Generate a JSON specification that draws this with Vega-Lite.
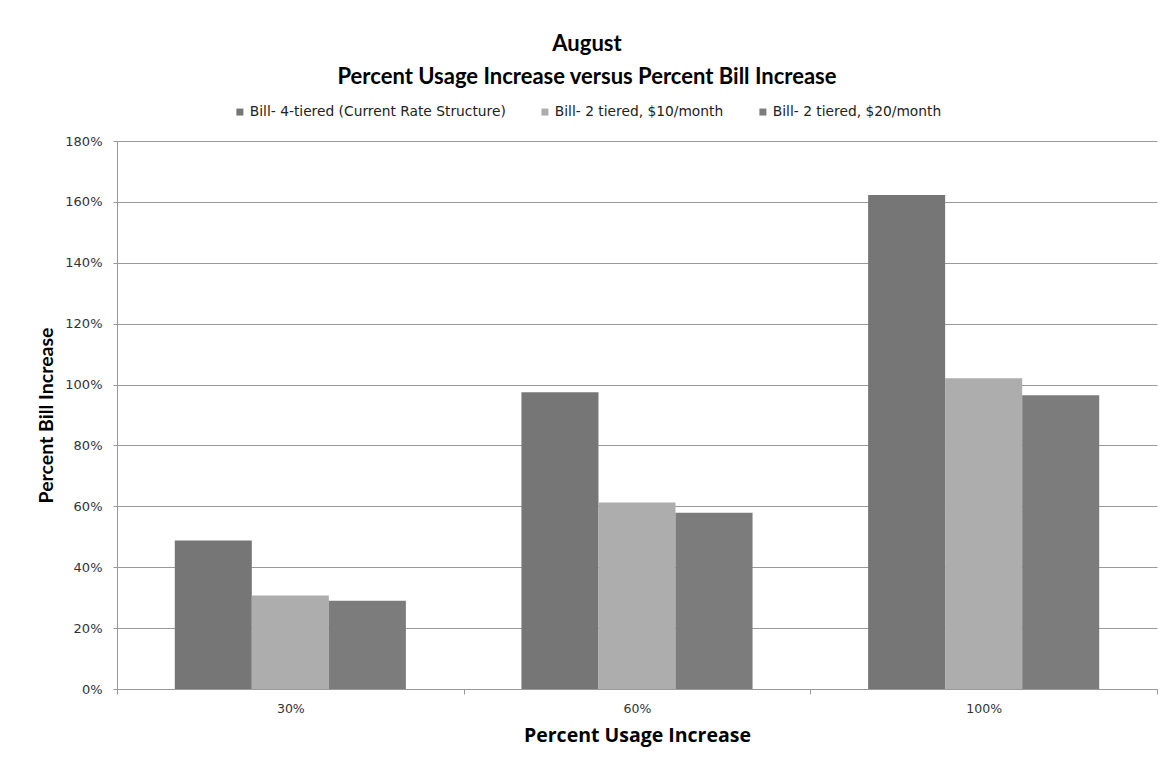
{
  "$schema": "https://vega.github.io/schema/vega-lite/v6.json",
  "autosize": {"type": "none"},
  "width": 1040,
  "height": 548,
  "padding": {"left": 117, "top": 141, "right": 16, "bottom": 77},
  "background": "white",
  "title": {
    "text": ["August", "Percent Usage Increase versus Percent Bill Increase"],
    "font": "Lato",
    "fontSize": 22,
    "fontWeight": "bold",
    "color": "#000000",
    "lineHeight": 33,
    "anchor": "middle",
    "dx": -50,
    "offset": 16
  },
  "data": {
    "values": [
      {"usage": "30%", "plan": "Bill- 4-tiered (Current Rate Structure)", "increase": 0.488},
      {"usage": "30%", "plan": "Bill- 2 tiered, $10/month", "increase": 0.307},
      {"usage": "30%", "plan": "Bill- 2 tiered, $20/month", "increase": 0.290},
      {"usage": "60%", "plan": "Bill- 4-tiered (Current Rate Structure)", "increase": 0.975},
      {"usage": "60%", "plan": "Bill- 2 tiered, $10/month", "increase": 0.613},
      {"usage": "60%", "plan": "Bill- 2 tiered, $20/month", "increase": 0.579},
      {"usage": "100%", "plan": "Bill- 4-tiered (Current Rate Structure)", "increase": 1.623},
      {"usage": "100%", "plan": "Bill- 2 tiered, $10/month", "increase": 1.021},
      {"usage": "100%", "plan": "Bill- 2 tiered, $20/month", "increase": 0.965}
    ]
  },
  "mark": {"type": "bar"},
  "encoding": {
    "x": {
      "field": "usage",
      "type": "nominal",
      "sort": ["30%", "60%", "100%"],
      "scale": {"paddingInner": 0, "paddingOuter": 0},
      "axis": {
        "title": "Percent Usage Increase",
        "titleFont": "Open Sans",
        "titleFontSize": 19.5,
        "titleFontWeight": "bold",
        "titleColor": "#000000",
        "titlePadding": 12,
        "labelAngle": 0,
        "labelFont": "DejaVu Sans",
        "labelFontSize": 12.5,
        "labelColor": "#333333",
        "labelPadding": 8,
        "tickBand": "extent",
        "tickSize": 5,
        "tickColor": "#999999",
        "domainColor": "#999999",
        "grid": false
      }
    },
    "xOffset": {
      "field": "plan",
      "type": "nominal",
      "sort": ["Bill- 4-tiered (Current Rate Structure)", "Bill- 2 tiered, $10/month", "Bill- 2 tiered, $20/month"],
      "scale": {"paddingInner": 0, "paddingOuter": 0.75}
    },
    "y": {
      "field": "increase",
      "type": "quantitative",
      "scale": {"domain": [0, 1.8], "nice": false},
      "axis": {
        "title": "Percent Bill Increase",
        "titleFont": "Lato",
        "titleFontSize": 19.5,
        "titleFontWeight": "bold",
        "titleColor": "#000000",
        "titlePadding": 8,
        "values": [0, 0.2, 0.4, 0.6, 0.8, 1.0, 1.2, 1.4, 1.6, 1.8],
        "format": ".0%",
        "labelFont": "DejaVu Sans",
        "labelFontSize": 13,
        "labelColor": "#333333",
        "labelPadding": 11,
        "tickSize": 4,
        "tickColor": "#999999",
        "domainColor": "#999999",
        "gridColor": "#9a9a9a",
        "gridWidth": 1
      }
    },
    "color": {
      "field": "plan",
      "type": "nominal",
      "sort": ["Bill- 4-tiered (Current Rate Structure)", "Bill- 2 tiered, $10/month", "Bill- 2 tiered, $20/month"],
      "scale": {
        "domain": ["Bill- 4-tiered (Current Rate Structure)", "Bill- 2 tiered, $10/month", "Bill- 2 tiered, $20/month"],
        "range": ["#767676", "#adadad", "#7c7c7c"]
      },
      "legend": {
        "title": null,
        "orient": "none",
        "direction": "horizontal",
        "legendX": 116,
        "legendY": -36,
        "symbolType": "square",
        "symbolSize": 49,
        "symbolStrokeWidth": 0,
        "labelFont": "DejaVu Sans",
        "labelFontSize": 13.8,
        "labelColor": "#222222",
        "labelOffset": 3,
        "labelLimit": 0,
        "columnPadding": 32
      }
    }
  },
  "config": {
    "view": {"stroke": null},
    "axis": {"gridDash": []}
  }
}
